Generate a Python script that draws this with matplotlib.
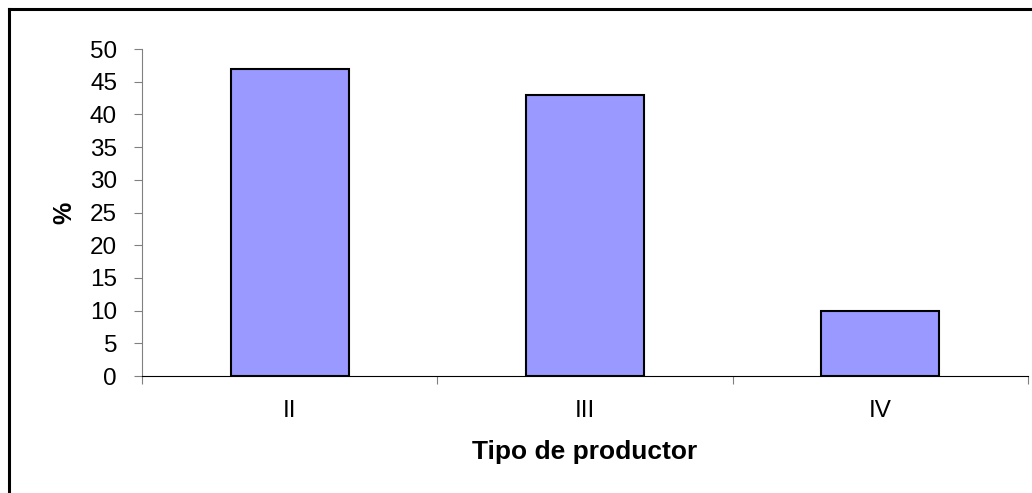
import matplotlib
matplotlib.use('Agg')

import matplotlib.pyplot as plt
from matplotlib.lines import Line2D

plt.rcParams['font.family'] = ['Liberation Sans', 'DejaVu Sans']

categories = ['II', 'III', 'IV']
values = [47, 43, 10]
y_ticks = [0, 5, 10, 15, 20, 25, 30, 35, 40, 45, 50]


def main():
    fig = plt.figure(figsize=(10.32, 4.93), dpi=100)
    ax = fig.add_axes([0.1376, 0.2373, 0.8585, 0.6633])

    x = list(range(len(categories)))
    ax.bar(x, values, width=0.4, color='#9999FF', edgecolor='black', linewidth=1.5)

    ax.set_xlim(-0.5, len(categories) - 0.5)
    ax.set_ylim(0, 50)
    ax.set_yticks(y_ticks)
    ax.set_yticklabels([str(t) for t in y_ticks], fontsize=17.5)

    # category labels between the boundary ticks, like Excel
    ax.set_xticks([i - 0.5 for i in range(len(categories) + 1)])
    ax.set_xticklabels([])
    ax.set_xticks(x, minor=True)
    ax.set_xticklabels(categories, minor=True, fontsize=17.5)
    ax.tick_params(axis='x', which='minor', length=0, pad=17)
    ax.tick_params(axis='x', which='major', length=6, color='#808080', direction='out')
    ax.tick_params(axis='y', length=6, color='#808080', direction='out', pad=12)

    for side in ['top', 'right']:
        ax.spines[side].set_visible(False)
    ax.spines['left'].set_color('#808080')
    ax.spines['bottom'].set_color('black')

    ax.set_xlabel('Tipo de productor', fontsize=19, fontweight='bold', labelpad=13)
    ax.set_ylabel('%', fontsize=18, fontweight='bold', labelpad=10)

    # figure border (top and left visible)
    fig.add_artist(Line2D([9 / 1032, 1.0], [1 - 9 / 493, 1 - 9 / 493],
                          transform=fig.transFigure, color='black', linewidth=2.2))
    fig.add_artist(Line2D([9 / 1032, 9 / 1032], [0.0, 1 - 9 / 493],
                          transform=fig.transFigure, color='black', linewidth=2.2))

    plt.savefig('out.png', dpi=100)


if __name__ == "__main__":
    main()
